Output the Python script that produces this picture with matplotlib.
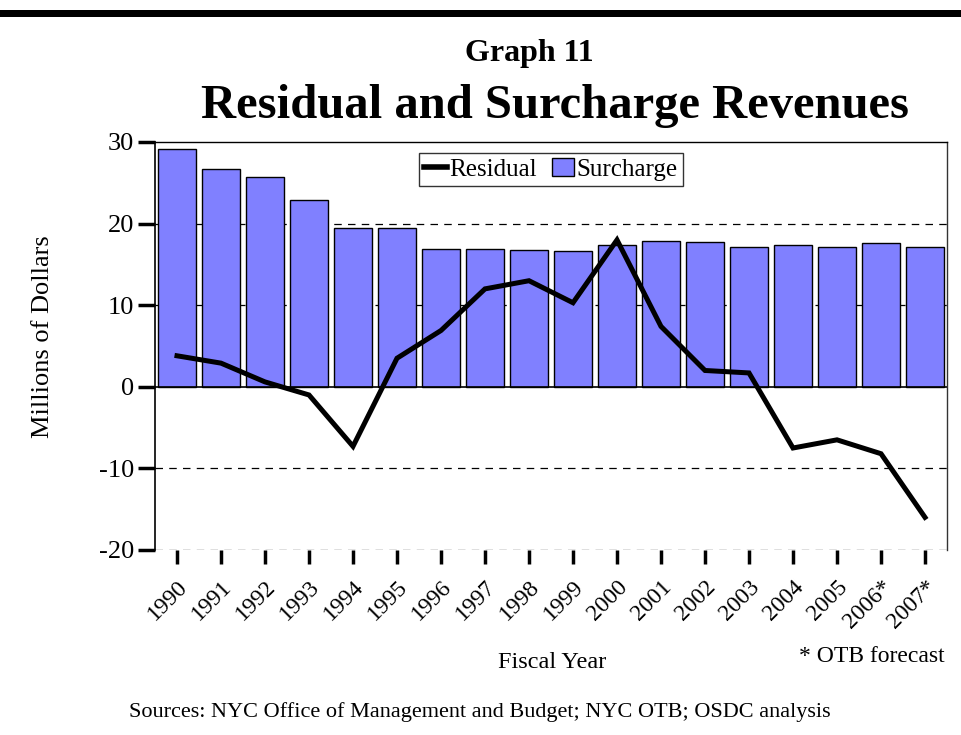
import matplotlib
matplotlib.use("Agg")
import matplotlib.pyplot as plt
from matplotlib.lines import Line2D
import numpy as np

# data
years = ["1990", "1991", "1992", "1993", "1994", "1995", "1996", "1997", "1998",
         "1999", "2000", "2001", "2002", "2003", "2004", "2005", "2006*", "2007*"]
surcharge = [29.2, 26.7, 25.7, 22.9, 19.5, 19.5, 16.9, 16.9, 16.8,
             16.6, 17.4, 17.9, 17.7, 17.1, 17.4, 17.1, 17.6, 17.1]
residual = [3.8, 2.9, 0.6, -1.0, -7.3, 3.5, 6.9, 12.0, 13.0,
            10.3, 18.0, 7.4, 2.0, 1.7, -7.5, -6.5, -8.2, -16.0]
yticks = [-20, -10, 0, 10, 20, 30]

plt.rcParams["font.family"] = ["Liberation Serif", "DejaVu Serif"]

fig = plt.figure(figsize=(9.61, 7.35), dpi=100)
ax = fig.add_axes([155 / 961, 1 - 550 / 735, 792 / 961, 408 / 735])

x = np.arange(len(years))
ax.bar(x, surcharge, width=0.85, color="#8080FF", edgecolor="black",
       linewidth=1.0, zorder=2, label="Surcharge")
ax.plot(x, residual, color="black", linewidth=3.6, zorder=3,
        solid_joinstyle="miter", label="Residual")
ax.axhline(0, color="black", linewidth=1.2, zorder=2.5)

for v in [-20, -10, 10, 20]:
    ax.axhline(v, color="black", linewidth=0.9, linestyle=(0, (6, 5)), zorder=1)

ax.set_xlim(-0.5, len(years) - 0.5)
ax.set_ylim(-20, 30)
ax.set_yticks(yticks)
ax.set_yticklabels([str(v) for v in yticks], fontsize=19)
ax.set_xticks(x)
ax.set_xticklabels(years, rotation=45, ha="right", rotation_mode="anchor",
                   fontsize=17)
ax.tick_params(axis="y", direction="out", length=12, width=2.5, pad=3)
ax.tick_params(axis="x", direction="out", length=10, width=2.5, pad=9)

ax.spines["bottom"].set_visible(False)
ax.spines["left"].set_linewidth(1.2)
ax.spines["top"].set_linewidth(1.0)
ax.spines["right"].set_linewidth(1.0)
ax.spines["right"].set_color("#333333")

ax.set_ylabel("Millions of Dollars", fontsize=19)
ax.yaxis.set_label_coords(-0.128, 0.522)

handles = [Line2D([0], [0], color="black", linewidth=4),
           plt.Rectangle((0, 0), 1, 1, facecolor="#8080FF", edgecolor="black")]
leg = ax.legend(handles, ["Residual", "Surcharge"], loc="upper center",
                bbox_to_anchor=(0.5, 0.985), ncol=2, fontsize=18,
                frameon=True, fancybox=False, edgecolor="black",
                handlelength=0.9, handletextpad=0.1, columnspacing=0.6,
                borderpad=0.2, borderaxespad=0.2)
leg.get_frame().set_linewidth(1.0)

# top rule and titles
fig.add_artist(plt.Rectangle((0, 1 - 17 / 735), 1, 7 / 735, transform=fig.transFigure,
                             facecolor="black", edgecolor="none"))
fig.text(529 / 961, 1 - 53 / 735, "Graph 11", ha="center", va="center",
         fontsize=23, fontweight="bold")
fig.text(555 / 961, 1 - 106 / 735, "Residual and Surcharge Revenues", ha="center",
         va="center", fontsize=35, fontweight="bold")

fig.text(552 / 961, 1 - 662 / 735, "Fiscal Year", ha="center", va="center", fontsize=17.5)
fig.text(945 / 961, 1 - 656 / 735, "* OTB forecast", ha="right", va="center", fontsize=17)
fig.text(480 / 961, 1 - 712 / 735,
         "Sources: NYC Office of Management and Budget; NYC OTB; OSDC analysis",
         ha="center", va="center", fontsize=16)

fig.savefig("out.png", dpi=100)
